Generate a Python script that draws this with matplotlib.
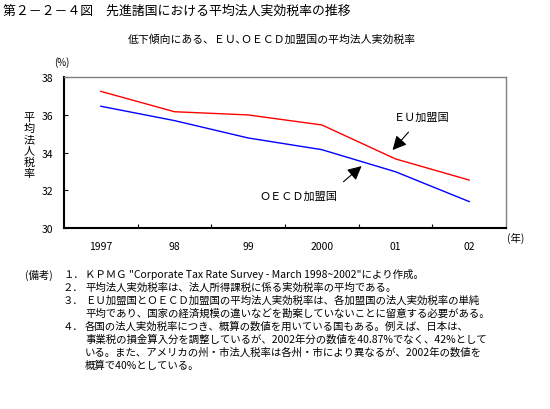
import matplotlib
matplotlib.use("Agg")
import matplotlib.pyplot as plt

plt.rcParams['font.family'] = ['Noto Sans CJK JP', 'DejaVu Sans']

years = ["1997", "98", "99", "2000", "01", "02"]
eu = [37.24, 36.16, 35.99, 35.46, 33.66, 32.54]
oecd = [36.45, 35.69, 34.77, 34.15, 32.98, 31.40]
yticks = [30, 32, 34, 36, 38]

title = "第２－２－４図　先進諸国における平均法人実効税率の推移"
subtitle = "低下傾向にある、ＥＵ､ＯＥＣＤ加盟国の平均法人実効税率"
ylabel = "平均法人税率"
notes = [
    ("１．", "ＫＰＭＧ \"Corporate Tax Rate Survey - March 1998~2002\"により作成。"),
    ("２．", "平均法人実効税率は、法人所得課税に係る実効税率の平均である。"),
    ("３．", "ＥＵ加盟国とＯＥＣＤ加盟国の平均法人実効税率は、各加盟国の法人実効税率の単純"),
    ("", "平均であり、国家の経済規模の違いなどを勘案していないことに留意する必要がある。"),
    ("４．", "各国の法人実効税率につき、概算の数値を用いている国もある。例えば、日本は、"),
    ("", "事業税の損金算入分を調整しているが、2002年分の数値を40.87%でなく、42%として"),
    ("", "いる。また、アメリカの州・市法人税率は各州・市により異なるが、2002年の数値を"),
    ("", "概算で40%としている。"),
]

W, H = 550, 410
fig = plt.figure(figsize=(5.5, 4.1), dpi=100)
fig.patch.set_facecolor("white")

def fx(px):
    return px / W

def fy(py):
    return 1 - py / H

ax = fig.add_axes([fx(64), fy(229), fx(506) - fx(64), fy(78) - fy(229)])
x = list(range(len(years)))
ax.plot(x, eu, color="#ff0000", lw=1.0)
ax.plot(x, oecd, color="#0000ff", lw=1.0)

ax.set_xlim(-0.5, len(years) - 0.5)
ax.set_ylim(30, 38)
ax.set_yticks(yticks)
ax.set_yticklabels([str(v) for v in yticks], fontsize=7.5)
ax.set_xticks(x)
ax.set_xticklabels(years, fontsize=7.5)
ax.set_xticks([i + 0.5 for i in range(len(years) - 1)], minor=True)
ax.tick_params(axis="x", which="major", length=0, pad=9)
ax.tick_params(axis="x", which="minor", direction="in", length=3, width=0.8)
ax.tick_params(axis="y", direction="in", length=3, width=0.8, pad=8)

for s in ["left", "bottom"]:
    ax.spines[s].set_color("black")
    ax.spines[s].set_linewidth(1.5)
for s in ["top", "right"]:
    ax.spines[s].set_color("#808080")
    ax.spines[s].set_linewidth(1.0)

ax.annotate("ＥＵ加盟国", xy=(3.96, 34.13), xytext=(4.36, 35.88),
            ha="center", va="center", fontsize=8,
            arrowprops=dict(arrowstyle="-|>,head_length=0.7,head_width=0.35",
                            color="black", lw=0.8,
                            mutation_scale=12, shrinkA=7, shrinkB=0))
ax.annotate("ＯＥＣＤ加盟国", xy=(3.54, 33.28), xytext=(2.675, 31.70),
            ha="center", va="center", fontsize=8,
            arrowprops=dict(arrowstyle="-|>,head_length=0.7,head_width=0.35",
                            color="black", lw=0.8,
                            mutation_scale=12, shrinkA=7, shrinkB=0,
                            relpos=(0.95, 1.0)))

fig.text(fx(3), fy(11), title, fontsize=9.3, ha="left", va="center")
fig.text(fx(272), fy(40), subtitle, fontsize=7.8, ha="center", va="center")
fig.text(fx(62), fy(63), "(%)", fontsize=7, ha="center", va="center")
fig.text(fx(516), fy(238), "(年)", fontsize=7.5, ha="center", va="center")
fig.text(fx(29), fy(146), "\n".join(ylabel), fontsize=8, ha="center",
         va="center", linespacing=1.13)

fig.text(fx(25), fy(275), "(備考)", fontsize=7.5, ha="left", va="center")
line_y = [275, 288, 301, 314, 327, 340, 353, 366]
for (num, txt), py in zip(notes, line_y):
    if num:
        fig.text(fx(63), fy(py), num, fontsize=7.5, ha="left", va="center")
    fig.text(fx(85), fy(py), txt, fontsize=7.5, ha="left", va="center")

fig.savefig("out.png", dpi=100, facecolor="white")
